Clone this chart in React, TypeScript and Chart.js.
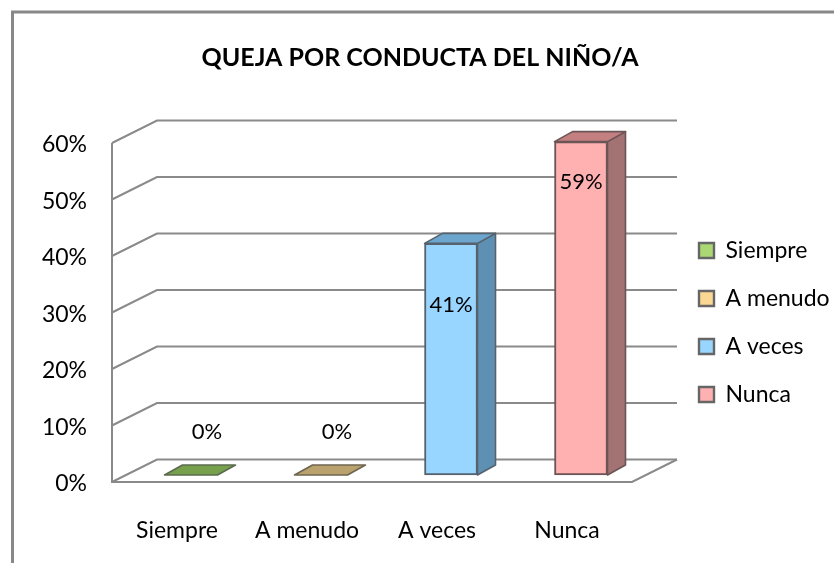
import React, { useEffect, useRef } from "react";
import { Chart, registerables } from "chart.js";

Chart.register(...registerables);

const titleText = "QUEJA POR CONDUCTA DEL NIÑO/A";
const categories = ["Siempre", "A menudo", "A veces", "Nunca"];
const values = [0, 0, 41, 59];
const frontColors = ["#ACD873", "#FBD794", "#99D6FF", "#FFB0B0"];
const topColors = ["#76A04C", "#B9A26E", "#6CA5CE", "#C47F81"];
const sideColors = ["#5F8A3C", "#9C8858", "#5E90B4", "#A37273"];
const strokeColors = ["#5C6B50", "#6F6650", "#56636E", "#6B5556"];
const labelOffsets = [
  [16, -43],
  [16, -43],
  [0, 62],
  [0, 40],
];

const FONT = "Lato, Carlito, Calibri, sans-serif";
const WALL_DX = 45;
const WALL_DY = -22.5;
const BAR_DX = 14;
const BAR_DY = -7;
const DEPTH_DX = 18;
const DEPTH_DY = -10;
const GRID = "#8A8A8A";

const chart3d = {
  id: "chart3d",
  beforeLayout(chart: any) {
    const l = chart.legend;
    if (l && !l.__wrapped) {
      const fit = l.fit.bind(l);
      l.fit = function () {
        fit();
        l.width = 202;
      };
      l.__wrapped = true;
    }
  },
  afterLayout(chart: any) {
    const l = chart.legend;
    if (l) {
      l.left = 674;
      l.right = 834;
      l.top = 214;
      l.bottom = 563;
    }
  },
  beforeDraw(chart: any) {
    const { ctx } = chart;
    ctx.save();
    ctx.strokeStyle = "#888888";
    ctx.lineWidth = 3;
    ctx.strokeRect(12.5, 12, 900, 700);
    ctx.restore();
  },
  beforeDatasetsDraw(chart: any) {
    const { ctx, chartArea, scales } = chart;
    const { left, right, top, bottom } = chartArea;
    ctx.save();
    ctx.strokeStyle = GRID;
    ctx.lineWidth = 2;
    ctx.lineCap = "butt";
    ctx.lineJoin = "miter";
    for (const t of scales.y.ticks) {
      const y = scales.y.getPixelForValue(t.value);
      ctx.beginPath();
      ctx.moveTo(left, y);
      ctx.lineTo(left + WALL_DX, y + WALL_DY);
      ctx.lineTo(right + WALL_DX, y + WALL_DY);
      ctx.stroke();
    }
    ctx.beginPath();
    ctx.moveTo(left, top);
    ctx.lineTo(left, bottom);
    ctx.lineTo(right, bottom);
    ctx.lineTo(right + WALL_DX, bottom + WALL_DY);
    ctx.stroke();
    ctx.restore();
  },
  beforeDatasetDraw(chart: any) {
    chart.ctx.save();
    chart.ctx.translate(BAR_DX, BAR_DY);
  },
  afterDatasetDraw(chart: any) {
    chart.ctx.restore();
  },
  afterDatasetsDraw(chart: any) {
    const { ctx } = chart;
    const bars = chart.getDatasetMeta(0).data;
    ctx.save();
    ctx.lineWidth = 1.6;
    ctx.lineJoin = "round";
    bars.forEach((bar: any, i: number) => {
      const hw = bar.width / 2;
      const xl = bar.x - hw + BAR_DX;
      const xr = bar.x + hw + BAR_DX;
      const yt = bar.y + BAR_DY;
      const yb = bar.base + BAR_DY;
      ctx.strokeStyle = strokeColors[i];
      if (yb - yt > 0.5) {
        ctx.fillStyle = sideColors[i];
        ctx.beginPath();
        ctx.moveTo(xr, yt);
        ctx.lineTo(xr + DEPTH_DX, yt + DEPTH_DY);
        ctx.lineTo(xr + DEPTH_DX, yb + DEPTH_DY);
        ctx.lineTo(xr, yb);
        ctx.closePath();
        ctx.fill();
        ctx.stroke();
      }
      ctx.fillStyle = topColors[i];
      ctx.beginPath();
      ctx.moveTo(xl, yt);
      ctx.lineTo(xl + DEPTH_DX, yt + DEPTH_DY);
      ctx.lineTo(xr + DEPTH_DX, yt + DEPTH_DY);
      ctx.lineTo(xr, yt);
      ctx.closePath();
      ctx.fill();
      ctx.stroke();
    });
    ctx.fillStyle = "#000000";
    ctx.font = `22px ${FONT}`;
    ctx.textAlign = "center";
    ctx.textBaseline = "middle";
    bars.forEach((bar: any, i: number) => {
      const [dx, dy] = labelOffsets[i];
      ctx.fillText(`${values[i]}%`, bar.x + BAR_DX + dx, bar.y + BAR_DY + dy);
    });
    ctx.restore();
  },
};

export default function App() {
  const ref = useRef<HTMLCanvasElement | null>(null);
  useEffect(() => {
    const chart = new Chart(ref.current as HTMLCanvasElement, {
      type: "bar",
      data: {
        labels: categories,
        datasets: [
          {
            data: values,
            backgroundColor: frontColors,
            borderColor: strokeColors,
            borderWidth: 2,
            borderSkipped: false,
            barThickness: 53,
            clip: false,
          } as any,
        ],
      },
      options: {
        responsive: false,
        animation: false,
        layout: { padding: { left: 6, right: 0, top: 0, bottom: 0 } },
        plugins: {
          tooltip: { enabled: false },
          title: {
            display: true,
            text: titleText,
            color: "#000000",
            font: { family: FONT, size: 25, weight: "bold", lineHeight: 1.2 },
            padding: { top: 43, bottom: 70 },
          },
          legend: {
            display: true,
            position: "right",
            align: "start",
            labels: {
              boxWidth: 15,
              boxHeight: 15,
              padding: 25,
              color: "#000000",
              font: { family: FONT, size: 23 },
              generateLabels: () =>
                categories.map((c, i) => ({
                  text: c,
                  fillStyle: frontColors[i],
                  strokeStyle: "#666666",
                  lineWidth: 2.4,
                  index: i,
                })),
            },
          },
        },
        scales: {
          x: {
            grid: { display: false, drawTicks: false },
            border: { display: false },
            ticks: {
              color: "#000000",
              padding: 35,
              maxRotation: 0,
              font: { family: FONT, size: 23 },
            },
            afterFit(s: any) {
              s.height = 81;
            },
          },
          y: {
            min: 0,
            max: 60,
            grid: { display: false, drawTicks: false },
            border: { display: false },
            ticks: {
              stepSize: 10,
              color: "#000000",
              padding: 25,
              labelOffset: 2,
              font: { family: FONT, size: 23 },
              callback: (v: any) => `${v}%`,
            },
            afterFit(s: any) {
              s.width = 106;
            },
          },
        },
      },
      plugins: [chart3d],
    } as any);
    return () => chart.destroy();
  }, []);
  return (
    <canvas
      ref={ref}
      width={834}
      height={563}
      style={{ position: "absolute", left: 0, top: 0, display: "block", background: "#FFFFFF" }}
    />
  );
}
